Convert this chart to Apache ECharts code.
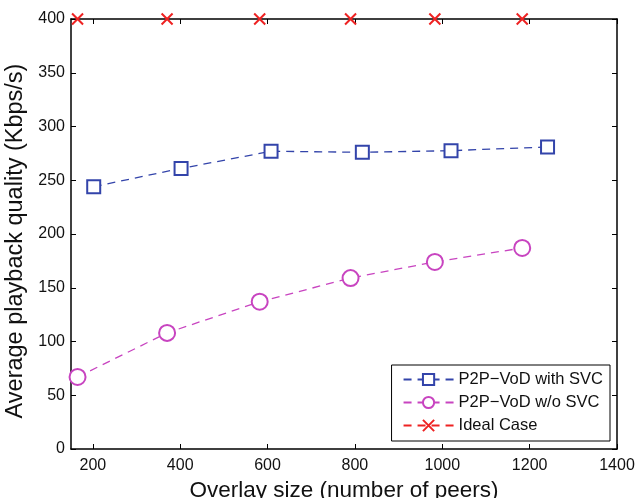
<!DOCTYPE html>
<html><head><meta charset="utf-8">
<script src="https://cdn.jsdelivr.net/npm/echarts@6/dist/echarts.min.js"></script>
<style>html,body{margin:0;padding:0;background:#fff}#c{width:635px;height:498px}</style>
</head><body><div id="c"></div>
<script>
const svcX = [202, 402, 608, 817, 1020, 1241];
const svcY = [244, 261, 277, 276, 277.5, 281];
const woX = [165, 370, 582, 790, 983, 1183];
const woY = [67, 108, 137, 159, 174, 187];
const idealX = [165, 370, 582, 790, 983, 1183];
const idealY = [400, 400, 400, 400, 400, 400];
const xTicks = [200, 400, 600, 800, 1000, 1200, 1400];
const yTicks = [0, 50, 100, 150, 200, 250, 300, 350, 400];
const seriesNames = ['P2P\u2212VoD with SVC', 'P2P\u2212VoD w/o SVC', 'Ideal Case'];

const zip = (a, b) => a.map((v, i) => [v, b[i]]);
const font = 'Liberation Sans, Arial, sans-serif';
const chart = echarts.init(document.getElementById('c'));
const dash = [8, 6];
chart.setOption({
  animation: false,
  backgroundColor: '#fff',
  grid: {left: 71, right: 18, top: 19, bottom: 49, containLabel: false, outerBoundsMode: 'none'},
  xAxis: [{
    type: 'value', min: 150, max: 1400,
    axisLine: {onZero: false, lineStyle: {color: '#000', width: 1.5}},
    axisTick: {inside: true, length: 5, customValues: xTicks, lineStyle: {color: '#000'}},
    axisLabel: {customValues: xTicks, formatter: v => String(v), color: '#111', fontSize: 16, fontFamily: font, margin: 9},
    splitLine: {show: false},
    name: 'Overlay size (number of peers)', nameLocation: 'middle', nameGap: 26,
    nameTextStyle: {fontSize: 22.5, fontFamily: font, color: '#111'}
  }, {
    type: 'value', min: 150, max: 1400, position: 'top',
    axisLine: {onZero: false, lineStyle: {color: '#000', width: 1.5}},
    axisTick: {inside: true, length: 5, customValues: xTicks, lineStyle: {color: '#000'}},
    axisLabel: {show: false}, splitLine: {show: false}
  }],
  yAxis: [{
    type: 'value', min: 0, max: 400, interval: 50,
    axisLine: {show: true, onZero: false, lineStyle: {color: '#000', width: 1.5}},
    axisTick: {show: true, inside: true, length: 5, lineStyle: {color: '#000'}},
    axisLabel: {color: '#111', fontSize: 16, fontFamily: font, margin: 6},
    splitLine: {show: false},
    name: 'Average playback quality (Kbps/s)', nameLocation: 'middle', nameGap: 37,
    nameTextStyle: {fontSize: 23.5, fontFamily: font, color: '#111', padding: [0, 14, 0, 0]}
  }, {
    type: 'value', min: 0, max: 400, interval: 50, position: 'right',
    axisLine: {show: true, onZero: false, lineStyle: {color: '#000', width: 1.5}},
    axisTick: {show: true, inside: true, length: 5, lineStyle: {color: '#000'}},
    axisLabel: {show: false}, splitLine: {show: false}
  }],
  legend: {
    right: 25, bottom: 57, orient: 'vertical',
    backgroundColor: '#fff', borderColor: '#000', borderWidth: 1, borderRadius: 0,
    padding: [6, 7, 7, 11], itemGap: 6, itemWidth: 50, itemHeight: 14,
    textStyle: {fontSize: 16.5, fontFamily: font, color: '#111'},
    data: [seriesNames[0], seriesNames[1], {name: seriesNames[2], lineStyle: {opacity: 1, color: '#ee2222'}}]
  },
  series: [{
    name: seriesNames[0], type: 'line', data: zip(svcX, svcY),
    symbol: 'emptyRect', symbolSize: 13, color: '#3344aa',
    lineStyle: {type: dash, width: 1.3}, itemStyle: {borderWidth: 1.5}
  }, {
    name: seriesNames[1], type: 'line', data: zip(woX, woY),
    symbol: 'emptyCircle', symbolSize: 16, color: '#c844c0',
    lineStyle: {type: dash, width: 1.3}, itemStyle: {borderWidth: 1.5}
  }, {
    name: seriesNames[2], type: 'line', data: zip(idealX, idealY),
    symbol: 'emptyPath://M0,0L10,10M10,0L0,10', symbolSize: 11, color: '#ee2222',
    lineStyle: {type: dash, width: 1.3, opacity: 0}, itemStyle: {borderWidth: 1.6}, z: 4
  }]
});
</script></body></html>
